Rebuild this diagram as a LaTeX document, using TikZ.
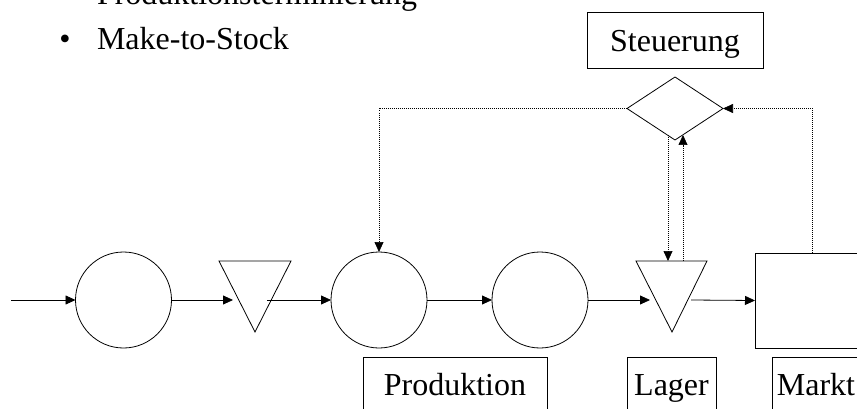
\documentclass[tikz,border=0pt]{standalone}
\usepackage{fontspec}
\setmainfont{Liberation Serif}
\usetikzlibrary{arrows.meta,shapes.geometric}
\begin{document}
\begin{tikzpicture}[x=1pt,y=-1pt,
  every node/.style={inner sep=0pt,outer sep=0pt},
  big/.style={font=\fontsize{32}{38}\selectfont},
  flow/.style={line width=0.8pt,-{Triangle[length=10pt,width=9pt]}},
  ctrl/.style={line width=0.7pt,dash pattern=on 1pt off 1pt,-{Triangle[length=10pt,width=9pt]}},
  station/.style={draw,circle,line width=0.8pt,minimum size=96pt},
  tagbox/.style={draw,big,line width=0.8pt,minimum height=76pt,text height=8pt,text depth=8pt}
]
\useasboundingbox (0,0) rectangle (857,409);

% bullet text
\node[big,anchor=base west] (head) at (97,5) {Produktionsterminierung};
\node[big,anchor=base] (dot) at (65,50) {\textbullet};
\node[big,anchor=base west] (mts) at (97,50) {Make-to-Stock};

% control unit
\node[draw,big,line width=0.8pt,minimum width=176pt,minimum height=56pt,
      text height=31pt,text depth=7pt] (steu) at (675,40) {Steuerung};
\node[draw,diamond,line width=0.8pt,minimum width=96pt,minimum height=63pt] (ctl) at (675,108.5) {};

% process chain
\coordinate (src) at (11,300);
\node[station] (p1) at (123.5,300) {};
\node[station] (p2) at (379,300) {};
\node[station] (p3) at (540,300) {};
\node[draw,line width=0.8pt,minimum width=114pt,minimum height=95pt] (mkt) at (812,300.5) {};

% buffer triangles
\draw[line width=0.8pt] (219,261) -- (291,261) -- (255,332) -- cycle;
\coordinate (t1in) at (233,300);
\coordinate (t1out) at (267,300);
\draw[line width=0.8pt] (636,261) -- (707,261) -- (672,332) -- cycle;
\coordinate (t2in) at (650,300);
\coordinate (t2out) at (691,300);
\coordinate (t2a) at (668,261);
\coordinate (t2b) at (683,261);
\coordinate (da) at (668,135);
\coordinate (db) at (683,135);

% material flow
\draw[flow] (src) -- (p1.west);
\draw[flow] (p1.east) -- (t1in);
\draw[flow] (t1out) -- (p2.west);
\draw[flow] (p2.east) -- (p3.west);
\draw[flow] (p3.east) -- (t2in);
\draw[flow] (t2out) -- (mkt.west);

% information flow
\draw[ctrl] (ctl.west) -| (p2.north);
\draw[ctrl] (mkt.north) |- (ctl.east);
\draw[ctrl] (da) -- (t2a);
\draw[ctrl] (t2b) -- (db);

% labels
\node[tagbox,minimum width=184pt] (lprod) at (455,395) {Produktion};
\node[tagbox,minimum width=89pt] (llag) at (671.5,395) {Lager};
\node[tagbox,minimum width=88pt,anchor=west] (lmkt) at (772,395) {Markt};
\end{tikzpicture}
\end{document}
